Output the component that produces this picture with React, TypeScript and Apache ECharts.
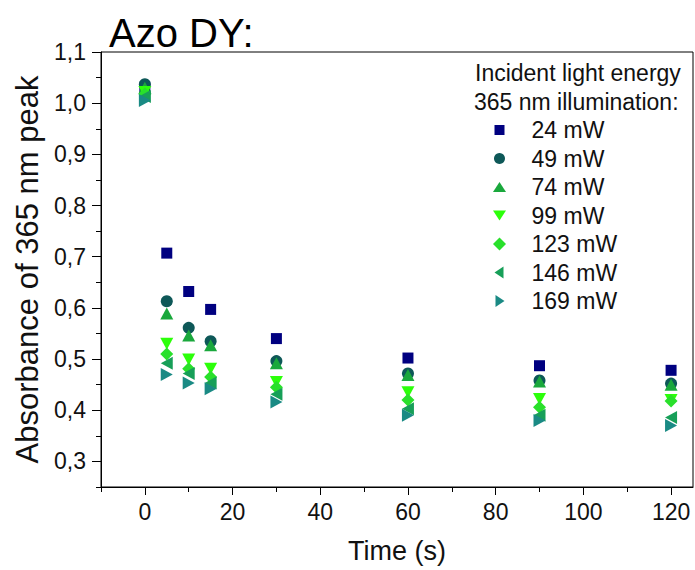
import React, { useEffect, useRef } from "react";
import * as echarts from "echarts";

const times = [0, 5, 10, 15, 30, 60, 90, 120];
const s24 = [1.03, 0.707, 0.632, 0.597, 0.54, 0.502, 0.487, 0.478];
const s49 = [1.037, 0.613, 0.561, 0.535, 0.496, 0.472, 0.458, 0.452];
const s74 = [1.03, 0.589, 0.546, 0.527, 0.492, 0.469, 0.456, 0.45];
const s99 = [1.022, 0.53, 0.499, 0.481, 0.455, 0.435, 0.422, 0.42];
const s123 = [1.018, 0.51, 0.481, 0.465, 0.445, 0.42, 0.406, 0.418];
const s146 = [1.013, 0.492, 0.472, 0.453, 0.431, 0.403, 0.39, 0.386];
const s169 = [1.005, 0.47, 0.453, 0.442, 0.416, 0.39, 0.38, 0.37];

const seriesNames = ["24 mW", "49 mW", "74 mW", "99 mW", "123 mW", "146 mW", "169 mW"];
const seriesValues = [s24, s49, s74, s99, s123, s146, s169];

const xMajorTicks = [0, 20, 40, 60, 80, 100, 120];
const xMinorTicks = [-10, 10, 30, 50, 70, 90, 110];
const yMajorTicks = [0.3, 0.4, 0.5, 0.6, 0.7, 0.8, 0.9, 1.0, 1.1];
const yMinorTicks = [0.25, 0.35, 0.45, 0.55, 0.65, 0.75, 0.85, 0.95, 1.05];

const legendTitle1 = "Incident light energy";
const legendTitle2 = "365 nm illumination:";
const chartTitle = "Azo DY:";

const FONT = "'Liberation Sans', Arial, sans-serif";

const styles = [
  {
    symbol: "path://M0,0 L10,0 L10,10 L0,10 Z",
    icon: "path://M0,0 M13,13 M1.5,1.5 L11.5,1.5 L11.5,11.5 L1.5,11.5 Z",
    size: 11,
    color: "#000080",
  },
  {
    symbol: "circle",
    icon: "path://M0,0 M13,13 M6.5,1 A5.5,5.5 0 1 1 6.49,1 Z",
    size: 12,
    color: "#0e5858",
  },
  { symbol: "path://M5,0 L10,9 L0,9 Z", icon: "path://M0,0 M13,13 M6.5,1.5 L13,11.5 L0,11.5 Z", size: [13, 12], color: "#1aa83c" },
  { symbol: "path://M0,0 L10,0 L5,9 Z", icon: "path://M0,0 M13,13 M0,1.5 L13,1.5 L6.5,11.5 Z", size: [13, 12], color: "#2cff0a" },
  { symbol: "path://M5,0 L10,5 L5,10 L0,5 Z", icon: "path://M6.5,0 L13,6.5 L6.5,13 L0,6.5 Z", size: [13, 13], color: "#29e02b" },
  { symbol: "path://M9,0 L9,10 L0,5 Z", icon: "path://M0,0 M13,13 M10.5,0.5 L10.5,12.5 L1.5,6.5 Z", size: [12, 13], color: "#179f58" },
  { symbol: "path://M0,0 L9,5 L0,10 Z", icon: "path://M0,0 M13,13 M2.5,0.5 L11.5,6.5 L2.5,12.5 Z", size: [12, 13], color: "#1a8a84" },
];

export default function App() {
  const ref = useRef<HTMLDivElement>(null);
  useEffect(() => {
    if (!ref.current) return;
    const chart = echarts.init(ref.current, null, { renderer: "svg" });
    const series = seriesNames.map((name, i) => ({
      name,
      type: "scatter",
      symbol: styles[i].symbol,
      symbolSize: styles[i].size,
      symbolKeepAspect: false,
      itemStyle: { color: styles[i].color, opacity: 1 },
      data: times.map((t, j) => [t, seriesValues[i][j]]),
      z: 2 + i,
    }));
    const axisText = { color: "#111", fontFamily: FONT };
    chart.setOption({
      animation: false,
      backgroundColor: "#fff",
      grid: {
        left: 101,
        right: 2,
        top: 52,
        bottom: 83,
        show: true,
        borderColor: "#000",
        borderWidth: 1,
      },
      xAxis: [
        {
          type: "value",
          min: -10,
          max: 125,
          interval: 10,
          splitLine: { show: false },
          axisLine: { show: true, onZero: false, lineStyle: { color: "#000", width: 1 } },
          axisTick: { show: true, length: 5, customValues: xMinorTicks, lineStyle: { color: "#000" } },
          axisLabel: {
            customValues: xMajorTicks,
            fontSize: 23,
            margin: 13,
            ...axisText,
          },
          name: "Time (s)",
          nameLocation: "middle",
          nameGap: 50,
          nameTextStyle: { fontSize: 27, ...axisText },
        },
        {
          type: "value",
          position: "bottom",
          min: -10,
          max: 125,
          splitLine: { show: false },
          axisLine: { show: false, onZero: false },
          axisTick: { show: true, length: 8, customValues: xMajorTicks, lineStyle: { color: "#000" } },
          axisLabel: { show: false },
        },
      ],
      yAxis: [
        {
          type: "value",
          min: 0.25,
          max: 1.1,
          interval: 0.05,
          splitLine: { show: false },
          axisLine: { show: true, onZero: false, lineStyle: { color: "#000", width: 1 } },
          axisTick: { show: true, length: 5, customValues: yMinorTicks, lineStyle: { color: "#000" } },
          axisLabel: {
            customValues: yMajorTicks,
            fontSize: 23,
            margin: 15,
            formatter: (v: number) => v.toFixed(1).replace(".", ","),
            ...axisText,
          },
          name: "Absorbance of 365 nm peak",
          nameLocation: "middle",
          nameGap: 46,
          nameTextStyle: { fontSize: 31, ...axisText },
        },
        {
          type: "value",
          position: "left",
          min: 0.25,
          max: 1.1,
          splitLine: { show: false },
          axisLine: { show: false, onZero: false },
          axisTick: { show: true, length: 9, customValues: yMajorTicks, lineStyle: { color: "#000" } },
          axisLabel: { show: false },
        },
      ],
      legend: {
        orient: "vertical",
        left: 493,
        top: 118,
        padding: 0,
        itemWidth: 54,
        itemHeight: 13,
        itemGap: 4.5,
        selectedMode: false,
        symbolKeepAspect: true,
        textStyle: { fontSize: 23, lineHeight: 24, color: "#111", fontFamily: FONT },
        data: seriesNames.map((name, i) => ({ name, icon: styles[i].icon })),
      },
      graphic: [
        {
          type: "text",
          x: 109,
          y: 33,
          style: { text: chartTitle, fontSize: 40, fontFamily: FONT, fill: "#000", verticalAlign: "middle" },
        },
        {
          type: "text",
          x: 475,
          y: 73,
          style: { text: legendTitle1, fontSize: 23, fontFamily: FONT, fill: "#111", verticalAlign: "middle" },
        },
        {
          type: "text",
          x: 474,
          y: 102,
          style: { text: legendTitle2, fontSize: 23, fontFamily: FONT, fill: "#111", verticalAlign: "middle" },
        },
      ],
      series,
    });
    return () => chart.dispose();
  }, []);
  return (
    <div
      ref={ref}
      style={{ position: "absolute", left: 0, top: 0, width: 695, height: 570 }}
    />
  );
}
